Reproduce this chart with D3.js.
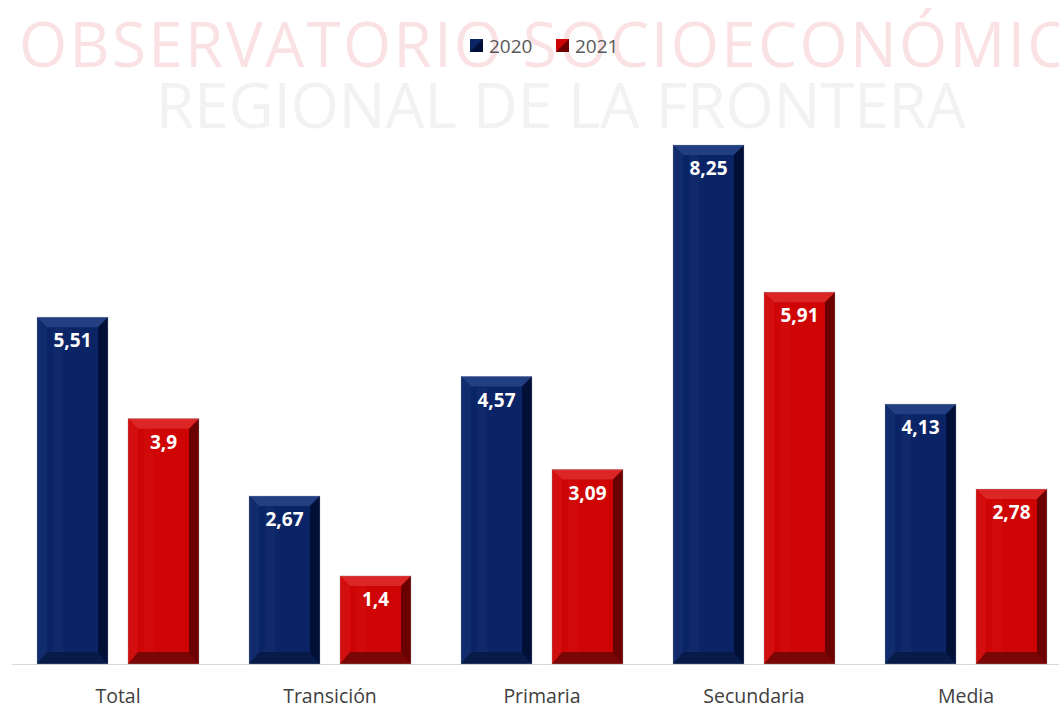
<!DOCTYPE html>
<html>
<head>
<meta charset="utf-8">
<script src="https://cdn.jsdelivr.net/npm/d3@7"></script>
<style>
  body { margin: 0; background: #fff; }
  svg { display: block; }
</style>
</head>
<body>
<script>
var width  = 1059;
var height = 707;

var categories = ['Total', 'Transición', 'Primaria', 'Secundaria', 'Media'];
var years      = ['2020', '2021'];
var values2020 = [5.51, 2.67, 4.57, 8.25, 4.13];
var values2021 = [3.9, 1.4, 3.09, 5.91, 2.78];
var labels2020 = ['5,51', '2,67', '4,57', '8,25', '4,13'];
var labels2021 = ['3,9', '1,4', '3,09', '5,91', '2,78'];

var palette = {
  '2020': { main: '#0b2466', light: '#112c6c', top: '#223f82', dark: '#020f36', bottom: '#081a48' },
  '2021': { main: '#cf0404', light: '#d20e0e', top: '#dc2626', dark: '#6a0000', bottom: '#7a0606' }
};

var rows = categories.map(function(c, i) {
  return { cat: c, vals: [
    { year: '2020', v: values2020[i], label: labels2020[i] },
    { year: '2021', v: values2021[i], label: labels2021[i] }
  ]};
});

var svg = d3.select('body').append('svg')
    .attr('width', width)
    .attr('height', height);

// watermark
svg.append('text')
  .attr('x', 19).attr('y', 67)
  .attr('textLength', 1098)
  .attr('lengthAdjust', 'spacing')
  .attr('font-family', 'Open Sans')
  .attr('font-weight', 400)
  .attr('font-size', 62)
  .attr('fill', '#fae2e4')
  .text('OBSERVATORIO SOCIOECONÓMICO');

svg.append('text')
  .attr('x', 156).attr('y', 128)
  .attr('textLength', 810)
  .attr('lengthAdjust', 'spacing')
  .attr('font-family', 'Open Sans')
  .attr('font-weight', 400)
  .attr('font-size', 62)
  .attr('fill', '#f2f2f2')
  .text('REGIONAL DE LA FRONTERA');

var x0 = d3.scaleBand().domain(categories).range([12, 1072]).paddingInner(0.236).paddingOuter(0.118);
var x1 = d3.scaleBand().domain(years).range([0, x0.bandwidth()]).paddingInner(0.22);
var y  = d3.scaleLinear().domain([0, 8.25]).range([664, 145]);

// axis line
svg.append('line')
  .attr('x1', 12).attr('x2', width)
  .attr('y1', y(0) + 0.5).attr('y2', y(0) + 0.5)
  .attr('stroke', '#d9d9d9').attr('stroke-width', 1);

var bev = 10;

var groups = svg.selectAll('g.cat').data(rows).enter().append('g')
  .attr('class', 'cat')
  .attr('transform', function(d) { return 'translate(' + x0(d.cat) + ',0)'; });

var bars = groups.selectAll('g.bar').data(function(d) { return d.vals; }).enter().append('g')
  .attr('class', 'bar');

bars.each(function(d) {
  var g = d3.select(this);
  var c = palette[d.year];
  var l = x1(d.year), r = l + x1.bandwidth();
  var t = y(d.v), b = y(0);
  g.append('rect').attr('x', l).attr('y', t).attr('width', r - l).attr('height', b - t).attr('fill', c.main);
  // soft highlight stripe
  g.append('rect').attr('x', l + bev + 6).attr('y', t + bev).attr('width', 10).attr('height', Math.max(0, b - t - 2 * bev))
    .attr('fill', '#ffffff').attr('opacity', 0.025);
  // top bevel
  g.append('polygon').attr('points', [[l, t], [r, t], [r - bev, t + bev], [l + bev, t + bev]].join(' ')).attr('fill', c.top);
  // left bevel
  g.append('polygon').attr('points', [[l, t], [l + bev, t + bev], [l + bev, b - bev], [l, b]].join(' ')).attr('fill', c.light);
  // right bevel
  g.append('polygon').attr('points', [[r, t], [r, b], [r - bev, b - bev], [r - bev, t + bev]].join(' ')).attr('fill', c.dark);
  // bottom bevel
  g.append('polygon').attr('points', [[l, b], [r, b], [r - bev, b - bev - 2], [l + bev, b - bev - 2]].join(' ')).attr('fill', c.bottom);
  g.append('rect').attr('x', l).attr('y', t).attr('width', r - l).attr('height', b - t)
    .attr('fill', 'none').attr('stroke', '#9aa0b0').attr('stroke-opacity', 0.35).attr('stroke-width', 1);
  g.append('text')
    .attr('x', (l + r) / 2).attr('y', t + 30)
    .attr('text-anchor', 'middle')
    .attr('font-family', 'Open Sans')
    .attr('font-weight', 700)
    .attr('font-size', 19)
    .attr('fill', '#ffffff')
    .text(d.label);
});

// category labels
svg.selectAll('text.cat').data(categories).enter().append('text')
  .attr('class', 'cat')
  .attr('x', function(d) { return x0(d) + x0.bandwidth() / 2; })
  .attr('y', 703)
  .attr('text-anchor', 'middle')
  .attr('font-family', 'Open Sans')
  .attr('font-size', 19.5)
  .attr('fill', '#404040')
  .text(function(d) { return d; });

// legend
var legend = svg.selectAll('g.leg').data(years).enter().append('g')
  .attr('class', 'leg')
  .attr('transform', function(d, i) { return 'translate(' + (470 + i * 86) + ',39)'; });
legend.append('rect').attr('width', 13).attr('height', 13).attr('fill', function(d) { return palette[d].main; });
legend.append('polygon').attr('points', '13,0 13,13 0,13').attr('fill', function(d) { return palette[d].dark; });
legend.append('text')
  .attr('x', 19).attr('y', 14)
  .attr('font-family', 'Open Sans')
  .attr('font-size', 19)
  .attr('fill', '#595959')
  .text(function(d) { return d; });
</script>
</body>
</html>
